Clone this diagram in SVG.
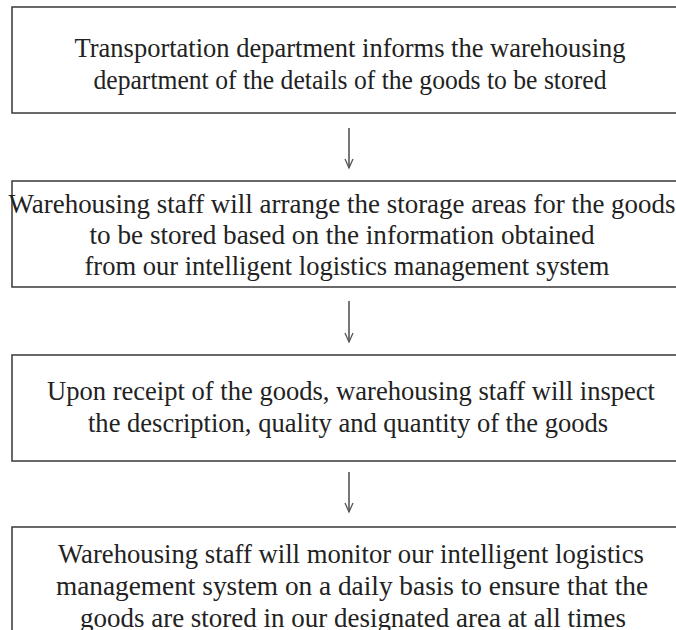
<svg xmlns="http://www.w3.org/2000/svg" width="676" height="630" viewBox="0 0 676 630">
<style>
.box{fill:#fff;stroke:#444;stroke-width:1.6}
.t{font-family:"Liberation Serif","Times New Roman",serif;font-size:28px;fill:#222;text-anchor:middle}
.c{stroke:#555;stroke-width:1.6;fill:none}
</style>
<defs>
<marker id="ah" markerWidth="14" markerHeight="10" refX="12" refY="5" orient="auto" markerUnits="userSpaceOnUse" viewBox="0 0 14 10">
<path d="M3,1 L12,5 L3,9" fill="none" stroke="#555" stroke-width="1.3"/>
</marker>
</defs>
<rect width="676" height="630" fill="#fff"/>
<g id="n1">
<rect class="box" x="12" y="7" width="680" height="106"/>
<text class="t" x="350" y="57" textLength="551" lengthAdjust="spacingAndGlyphs">Transportation department informs the warehousing</text>
<text class="t" x="350" y="89" textLength="513" lengthAdjust="spacingAndGlyphs">department of the details of the goods to be stored</text>
</g>
<g id="n2">
<rect class="box" x="12" y="181" width="680" height="106"/>
<text class="t" x="342" y="213" textLength="667" lengthAdjust="spacingAndGlyphs">Warehousing staff will arrange the storage areas for the goods</text>
<text class="t" x="342" y="244" textLength="505" lengthAdjust="spacingAndGlyphs">to be stored based on the information obtained</text>
<text class="t" x="347" y="275" textLength="525" lengthAdjust="spacingAndGlyphs">from our intelligent logistics management system</text>
</g>
<g id="n3">
<rect class="box" x="12" y="355" width="680" height="106"/>
<text class="t" x="351" y="400" textLength="608" lengthAdjust="spacingAndGlyphs">Upon receipt of the goods, warehousing staff will inspect</text>
<text class="t" x="348" y="432" textLength="520" lengthAdjust="spacingAndGlyphs">the description, quality and quantity of the goods</text>
</g>
<g id="n4">
<rect class="box" x="12" y="527" width="680" height="130"/>
<text class="t" x="351" y="563" textLength="586" lengthAdjust="spacingAndGlyphs">Warehousing staff will monitor our intelligent logistics</text>
<text class="t" x="352" y="595" textLength="592" lengthAdjust="spacingAndGlyphs">management system on a daily basis to ensure that the</text>
<text class="t" x="353" y="627" textLength="546" lengthAdjust="spacingAndGlyphs">goods are stored in our designated area at all times</text>
</g>
<g id="connectors">
<line class="c" x1="349" y1="128" x2="349" y2="168" marker-end="url(#ah)"/>
<line class="c" x1="349" y1="301" x2="349" y2="342" marker-end="url(#ah)"/>
<line class="c" x1="349" y1="472" x2="349" y2="512" marker-end="url(#ah)"/>
</g>
</svg>
